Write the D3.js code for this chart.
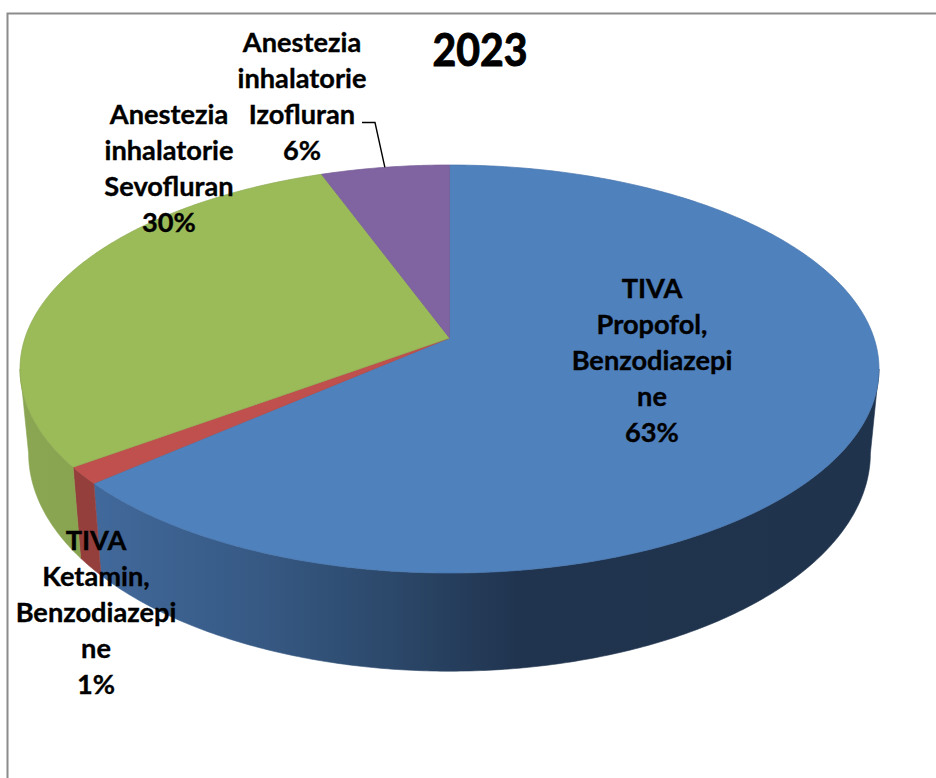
<!DOCTYPE html>
<html><head><meta charset="utf-8">
<script src="https://cdn.jsdelivr.net/npm/d3@7/dist/d3.min.js"></script>
<style>html,body{margin:0;padding:0;background:#fff}svg{display:block}
text{font-family:Lato,"Open Sans",sans-serif;font-weight:700;fill:#000;stroke:#000;stroke-width:0.35px}</style>
</head><body><svg id="c" width="936" height="778"></svg>
<script>
// --- data ---
const chartTitle = "2023";
const categories = [
  ["TIVA","Propofol,","Benzodiazepi","ne"],
  ["TIVA","Ketamin,","Benzodiazepi","ne"],
  ["Anestezia","inhalatorie","Sevofluran"],
  ["Anestezia","inhalatorie","Izofluran"]
];
const values = [63.6, 1.35, 29.45, 5.6];
const percentLabels = ["63%","1%","30%","6%"];
const topColors = ["#4f81bd","#c0504d","#9bbb59","#8064a2"];

// --- layout ---
const W=936,H=778, cx=449.5, k=-0.152;
const topRing={B:424.5,A:199.3,y0:338}, botRing={B:416,A:213,y0:420};
const proj=(r,a)=>{const u=Math.sin(a),v=-Math.cos(a),d=1+k*v;return [cx+r.B*u/d,r.y0+r.A*v/d];};
const svg=d3.select("#c");
const defs=svg.append("defs");

// frame
svg.append("path").attr("d",`M7.5,${H}V13.5H${W}`).attr("fill","none").attr("stroke","#8c8c8c").attr("stroke-width",2);

const arcs=d3.pie().sort(null).value(d=>d)(values);
const arcPts=(r,a0,a1)=>{const n=Math.max(2,Math.ceil((a1-a0)/0.01));
  return d3.range(n+1).map(i=>proj(r,a0+(a1-a0)*i/n));};
const line=d3.line();

// wall gradients (horizontal, in user space)
const wallStops=[
  [["0","#41699b"],["0.2","#375a85"],["0.36","#2d4a6d"],["0.54","#20344f"],["1","#1f334c"]],
  [["0","#953f3c"],["1","#953f3c"]],
  [["0","#8aa653"],["1","#88a44f"]],
  [["0","#66507f"],["1","#66507f"]]
];
wallStops.forEach((st,i)=>{
  const g=defs.append("linearGradient").attr("id","w"+i).attr("gradientUnits","userSpaceOnUse")
    .attr("x1",i===0?94:20).attr("x2",i===0?880:100).attr("y1",0).attr("y2",0);
  st.forEach(s=>g.append("stop").attr("offset",s[0]).attr("stop-color",s[1]));
});

// visible side wall range (front of the disc)
const aR=Math.PI/2+Math.asin(-k), aL=3*Math.PI/2-Math.asin(-k);
arcs.forEach((d,i)=>{
  const a0=Math.max(d.startAngle,aR), a1=Math.min(d.endAngle,aL);
  if(a1<=a0) return;
  const pts=arcPts(topRing,a0,a1).concat(arcPts(botRing,a0,a1).reverse());
  svg.append("path").attr("d",line(pts)+"Z").attr("fill",`url(#w${i})`)
     .attr("stroke",`url(#w${i})`).attr("stroke-width",0.6);
});

// top face
arcs.forEach((d,i)=>{
  const pts=[[cx,topRing.y0]].concat(arcPts(topRing,d.startAngle,d.endAngle));
  svg.append("path").attr("d",line(pts)+"Z").attr("fill",topColors[i])
     .attr("stroke",d3.color(topColors[i]).darker(0.25)).attr("stroke-width",0.7).attr("stroke-linejoin","round");
});

// leader line: runs to the rim of the purple slice
const leaderEnd=proj(topRing,arcs[3].startAngle+(arcs[3].endAngle-arcs[3].startAngle)*0.5);
svg.append("path").attr("d",line([[362,122.5],[375,122.5],leaderEnd])).attr("fill","none").attr("stroke","#000").attr("stroke-width",1.4);

// labels
const labelAnchors=[[652,298],[96,550],[169,124],[302,52]];
const fs=27.2, lh=36;
categories.forEach((c,i)=>{
  const t=svg.append("text").attr("text-anchor","middle").attr("font-size",fs);
  c.concat(percentLabels[i]).forEach((s,j)=>t.append("tspan").attr("x",labelAnchors[i][0]).attr("y",labelAnchors[i][1]+j*lh).text(s));
});
svg.append("text").attr("x",480).attr("y",65.5).attr("text-anchor","middle").attr("font-size",45)
   .attr("textLength",95).attr("lengthAdjust","spacingAndGlyphs").style("stroke-width","1px").text(chartTitle);
</script></body></html>
